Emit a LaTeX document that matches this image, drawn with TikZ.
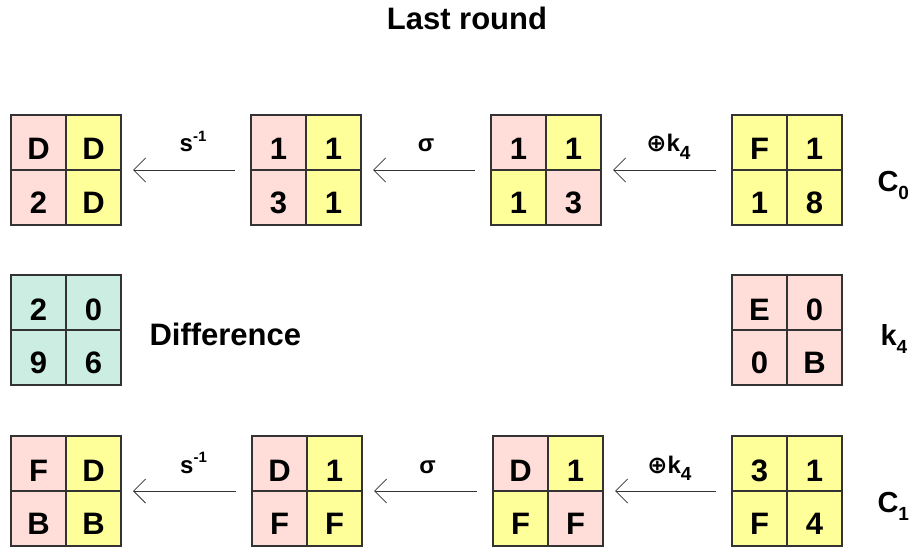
\documentclass[tikz,border=0pt]{standalone}
\usepackage{fontspec}
\setmainfont{Liberation Sans}
\newfontfamily\symbole{DejaVu Sans}
\usetikzlibrary{arrows.meta,positioning}

\definecolor{rosa}{HTML}{FFDDD8}
\definecolor{gelb}{HTML}{FFFF99}
\definecolor{tuerkis}{HTML}{CCEEE2}
\definecolor{rahmen}{HTML}{333333}

\newcommand{\hoch}[1]{\raisebox{0.45em}{\fontsize{15}{15}\selectfont#1}}
\newcommand{\tief}[1]{\raisebox{-0.3em}{\fontsize{19}{19}\selectfont#1}}

\begin{document}
\begin{tikzpicture}[x=1pt,y=-1pt,
    every node/.style={font=\bfseries\fontsize{29}{33}\selectfont},
    zelle/.style={draw=rahmen,line width=1.1pt,outer sep=0pt,inner sep=0pt,minimum width=55pt,minimum height=55pt,
        font=\bfseries\fontsize{31}{35}\selectfont,text height=35pt,text depth=0pt},
    unten/.style={text height=32pt},
    r/.style={zelle,fill=rosa},
    g/.style={zelle,fill=gelb},
    t/.style={zelle,fill=tuerkis},
    pfeil/.style={-{Straight Barb[length=12pt,width=24pt]},draw=rahmen,line width=0.8pt,shorten >=12pt,shorten <=16pt},
    op/.style={font=\bfseries\fontsize{24}{27}\selectfont,inner sep=0pt,anchor=base,yshift=18pt}]
    \useasboundingbox (0,0) rectangle (912,548);

    \node[anchor=base] (titel) at (467,30) {\fontsize{31}{35}\selectfont Last round};

    % obere Reihe: C_0
    \node[r,anchor=north west] (o1nw) at (11,115) {D};
    \node[g] (o1ne) at (o1nw.east) [anchor=west] {D};
    \node[r,unten] (o1sw) at (o1nw.south) [anchor=north] {2};
    \node[g,unten] (o1se) at (o1sw.east) [anchor=west] {D};

    \node[r,anchor=north west] (o2nw) at (251,115) {1};
    \node[g] (o2ne) at (o2nw.east) [anchor=west] {1};
    \node[r,unten] (o2sw) at (o2nw.south) [anchor=north] {3};
    \node[g,unten] (o2se) at (o2sw.east) [anchor=west] {1};

    \node[r,anchor=north west] (o3nw) at (491,115) {1};
    \node[g] (o3ne) at (o3nw.east) [anchor=west] {1};
    \node[g,unten] (o3sw) at (o3nw.south) [anchor=north] {1};
    \node[r,unten] (o3se) at (o3sw.east) [anchor=west] {3};

    \node[g,anchor=north west] (o4nw) at (732,115) {F};
    \node[g] (o4ne) at (o4nw.east) [anchor=west] {1};
    \node[g,unten] (o4sw) at (o4nw.south) [anchor=north] {1};
    \node[g,unten] (o4se) at (o4sw.east) [anchor=west] {8};

    \draw[pfeil] (o2nw.south west) -- node[op,xshift=7pt] {s\hoch{-1}} (o1ne.south east);
    \draw[pfeil] (o3nw.south west) -- node[op] {σ} (o2ne.south east);
    \draw[pfeil] (o4nw.south west) -- node[op,xshift=2pt] {{\symbole\bfseries ⊕}k\tief{4}} (o3ne.south east);
    \node[anchor=base west] (c0) at (874,191) {C\tief{0}};

    % mittlere Reihe: Differenz und Schluessel
    \node[t,anchor=north west] (dnw) at (11,275) {2};
    \node[t] (dne) at (dnw.east) [anchor=west] {0};
    \node[t,unten] (dsw) at (dnw.south) [anchor=north] {9};
    \node[t,unten] (dse) at (dsw.east) [anchor=west] {6};
    \node[anchor=base west] (diff) at (146,345) {\fontsize{31}{35}\selectfont Difference};

    \node[r,anchor=north west] (knw) at (732,275) {E};
    \node[r] (kne) at (knw.east) [anchor=west] {0};
    \node[r,unten] (ksw) at (knw.south) [anchor=north] {0};
    \node[r,unten] (kse) at (ksw.east) [anchor=west] {B};
    \node[anchor=base west] (k4) at (877,345) {k\tief{4}};

    % untere Reihe: C_1
    \node[r,anchor=north west] (u1nw) at (11,436) {F};
    \node[g] (u1ne) at (u1nw.east) [anchor=west] {D};
    \node[r,unten] (u1sw) at (u1nw.south) [anchor=north] {B};
    \node[g,unten] (u1se) at (u1sw.east) [anchor=west] {B};

    \node[r,anchor=north west] (u2nw) at (252,436) {D};
    \node[g] (u2ne) at (u2nw.east) [anchor=west] {1};
    \node[r,unten] (u2sw) at (u2nw.south) [anchor=north] {F};
    \node[g,unten] (u2se) at (u2sw.east) [anchor=west] {F};

    \node[r,anchor=north west] (u3nw) at (493,436) {D};
    \node[g] (u3ne) at (u3nw.east) [anchor=west] {1};
    \node[g,unten] (u3sw) at (u3nw.south) [anchor=north] {F};
    \node[r,unten] (u3se) at (u3sw.east) [anchor=west] {F};

    \node[g,anchor=north west] (u4nw) at (732,436) {3};
    \node[g] (u4ne) at (u4nw.east) [anchor=west] {1};
    \node[g,unten] (u4sw) at (u4nw.south) [anchor=north] {F};
    \node[g,unten] (u4se) at (u4sw.east) [anchor=west] {4};

    \draw[pfeil] (u2nw.south west) -- node[op,xshift=7pt] {s\hoch{-1}} (u1ne.south east);
    \draw[pfeil] (u3nw.south west) -- node[op] {σ} (u2ne.south east);
    \draw[pfeil] (u4nw.south west) -- node[op,xshift=2pt] {{\symbole\bfseries ⊕}k\tief{4}} (u3ne.south east);
    \node[anchor=base west] (c1) at (874,512) {C\tief{1}};
\end{tikzpicture}
\end{document}
